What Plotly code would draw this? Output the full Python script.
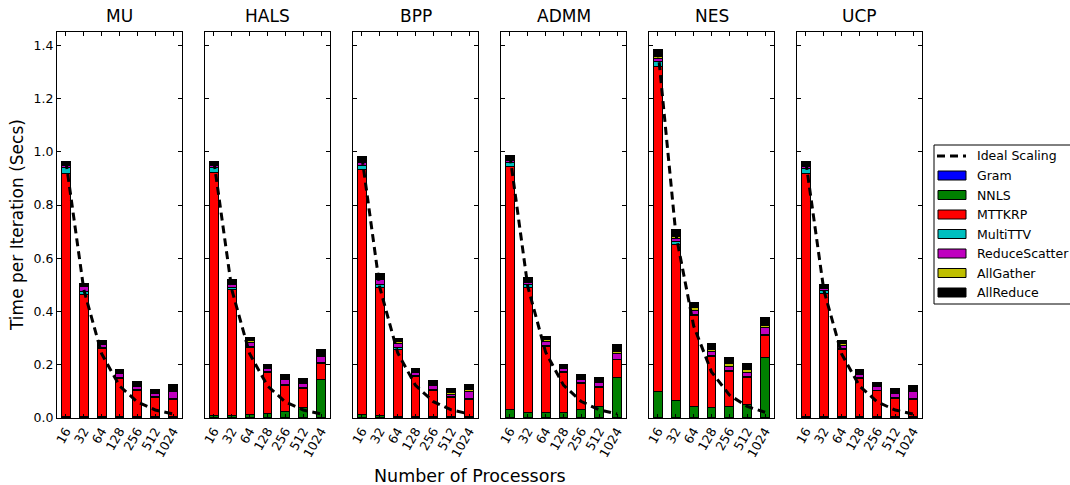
import plotly.graph_objects as go

procs = ["16", "32", "64", "128", "256", "512", "1024"]
methods = ["MU", "HALS", "BPP", "ADMM", "NES", "UCP"]
components = ["Gram", "NNLS", "MTTKRP", "MultiTTV", "ReduceScatter", "AllGather", "AllReduce"]
colors = ["#0000ff", "#008000", "#ff0000", "#00bfbf", "#bf00bf", "#bfbf00", "#000000"]

# MU
mu_gram = [0.002, 0.002, 0.002, 0.002, 0.002, 0.002, 0.003]
mu_nnls = [0.003, 0.003, 0.003, 0.003, 0.003, 0.003, 0.003]
mu_mttkrp = [0.915, 0.460, 0.255, 0.145, 0.100, 0.073, 0.065]
mu_multittv = [0.020, 0.010, 0.005, 0.004, 0.003, 0.003, 0.002]
mu_rs = [0.007, 0.018, 0.010, 0.013, 0.011, 0.010, 0.027]
mu_ag = [0.002, 0.003, 0.003, 0.004, 0.004, 0.004, 0.005]
mu_ar = [0.016, 0.011, 0.013, 0.012, 0.013, 0.013, 0.022]

# HALS
hals_gram = [0.002, 0.002, 0.002, 0.002, 0.002, 0.002, 0.003]
hals_nnls = [0.008, 0.008, 0.010, 0.014, 0.024, 0.036, 0.140]
hals_mttkrp = [0.913, 0.474, 0.254, 0.155, 0.097, 0.072, 0.063]
hals_multittv = [0.017, 0.008, 0.004, 0.003, 0.003, 0.003, 0.002]
hals_rs = [0.008, 0.009, 0.015, 0.012, 0.018, 0.018, 0.022]
hals_ag = [0.002, 0.004, 0.005, 0.004, 0.005, 0.004, 0.004]
hals_ar = [0.015, 0.014, 0.014, 0.012, 0.013, 0.013, 0.022]

# BPP
bpp_gram = [0.002, 0.002, 0.002, 0.002, 0.002, 0.002, 0.002]
bpp_nnls = [0.013, 0.006, 0.003, 0.003, 0.003, 0.003, 0.003]
bpp_mttkrp = [0.918, 0.484, 0.254, 0.151, 0.100, 0.072, 0.065]
bpp_multittv = [0.017, 0.008, 0.005, 0.003, 0.003, 0.003, 0.002]
bpp_rs = [0.008, 0.020, 0.017, 0.012, 0.013, 0.010, 0.028]
bpp_ag = [0.003, 0.004, 0.005, 0.004, 0.005, 0.005, 0.006]
bpp_ar = [0.020, 0.017, 0.012, 0.012, 0.014, 0.015, 0.021]

# ADMM
admm_gram = [0.002, 0.002, 0.002, 0.002, 0.002, 0.002, 0.003]
admm_nnls = [0.030, 0.020, 0.018, 0.020, 0.030, 0.043, 0.150]
admm_mttkrp = [0.914, 0.470, 0.250, 0.149, 0.098, 0.070, 0.065]
admm_multittv = [0.015, 0.008, 0.004, 0.003, 0.003, 0.003, 0.002]
admm_rs = [0.008, 0.008, 0.015, 0.013, 0.012, 0.016, 0.024]
admm_ag = [0.003, 0.005, 0.005, 0.004, 0.004, 0.005, 0.004]
admm_ar = [0.015, 0.016, 0.012, 0.011, 0.013, 0.013, 0.027]

# NES
nes_gram = [0.002, 0.002, 0.002, 0.002, 0.002, 0.002, 0.003]
nes_nnls = [0.098, 0.062, 0.043, 0.037, 0.041, 0.047, 0.225]
nes_mttkrp = [1.220, 0.587, 0.340, 0.192, 0.131, 0.103, 0.081]
nes_multittv = [0.020, 0.012, 0.005, 0.003, 0.003, 0.003, 0.003]
nes_rs = [0.010, 0.010, 0.013, 0.015, 0.017, 0.017, 0.027]
nes_ag = [0.008, 0.010, 0.013, 0.010, 0.012, 0.012, 0.010]
nes_ar = [0.027, 0.025, 0.018, 0.019, 0.022, 0.022, 0.030]

# UCP
ucp_gram = [0.002, 0.002, 0.002, 0.002, 0.002, 0.002, 0.003]
ucp_nnls = [0.003, 0.003, 0.003, 0.003, 0.003, 0.003, 0.003]
ucp_mttkrp = [0.913, 0.463, 0.253, 0.143, 0.097, 0.069, 0.064]
ucp_multittv = [0.018, 0.010, 0.004, 0.003, 0.003, 0.002, 0.002]
ucp_rs = [0.007, 0.008, 0.012, 0.013, 0.012, 0.016, 0.027]
ucp_ag = [0.003, 0.004, 0.004, 0.004, 0.004, 0.004, 0.005]
ucp_ar = [0.016, 0.013, 0.012, 0.015, 0.013, 0.013, 0.018]

series = {
    "MU": [mu_gram, mu_nnls, mu_mttkrp, mu_multittv, mu_rs, mu_ag, mu_ar],
    "HALS": [hals_gram, hals_nnls, hals_mttkrp, hals_multittv, hals_rs, hals_ag, hals_ar],
    "BPP": [bpp_gram, bpp_nnls, bpp_mttkrp, bpp_multittv, bpp_rs, bpp_ag, bpp_ar],
    "ADMM": [admm_gram, admm_nnls, admm_mttkrp, admm_multittv, admm_rs, admm_ag, admm_ar],
    "NES": [nes_gram, nes_nnls, nes_mttkrp, nes_multittv, nes_rs, nes_ag, nes_ar],
    "UCP": [ucp_gram, ucp_nnls, ucp_mttkrp, ucp_multittv, ucp_rs, ucp_ag, ucp_ar],
}

W, H = 1070, 485
panel_left = [57, 205, 353, 501, 649, 797]
panel_w = 125
plot_top, plot_bottom = 32, 418
FONT = "DejaVu Sans"
DASH = "8px,5px"


def px(x):
    return x / W


def py(y):
    return 1 - y / H


fig = go.Figure()
layout = dict(
    width=W, height=H,
    margin=dict(l=0, r=0, t=0, b=0),
    paper_bgcolor="white", plot_bgcolor="white",
    barmode="stack",
    font=dict(family=FONT, size=12, color="black"),
    showlegend=False,
)

annotations = []
shapes = []
for i, m in enumerate(methods):
    ax = "" if i == 0 else str(i + 1)
    xa, ya = "x" + ax, "y" + ax
    vals = series[m]
    totals = [sum(v[j] for v in vals) for j in range(len(procs))]
    for c, (name, col) in enumerate(zip(components, colors)):
        fig.add_trace(go.Bar(
            x=procs, y=vals[c], name=name, xaxis=xa, yaxis=ya,
            marker=dict(color=col, line=dict(color="black", width=1)),
            width=0.5, legendgroup=name,
        ))
    # ideal scaling from the 16-processor time
    p0 = int(procs[0])
    ideal = [totals[0] * p0 / int(p) for p in procs]
    fig.add_trace(go.Scatter(
        x=procs, y=ideal, mode="lines", name="Ideal Scaling",
        xaxis=xa, yaxis=ya,
        line=dict(color="black", width=3, dash=DASH),
        legendgroup="ideal",
    ))
    x0 = px(panel_left[i])
    x1 = px(panel_left[i] + panel_w)
    layout["xaxis" + ax] = dict(
        domain=[x0, x1], anchor=ya, type="category",
        range=[-0.5, len(procs) - 0.5],
        showline=True, linecolor="black", linewidth=1, mirror="ticks",
        ticks="inside", ticklen=4, tickcolor="black",
        tickangle=-60, tickfont=dict(family=FONT, size=12.5),
        showgrid=False, zeroline=False, automargin=False, fixedrange=True,
    )
    layout["yaxis" + ax] = dict(
        domain=[py(plot_bottom), py(plot_top)], anchor=xa,
        range=[0, 1.45], tickvals=[0, 0.2, 0.4, 0.6, 0.8, 1.0, 1.2, 1.4],
        tickformat=".1f", showticklabels=(i == 0),
        showline=True, linecolor="black", linewidth=1, mirror="ticks",
        ticks="inside", ticklen=4, tickcolor="black",
        tickfont=dict(family=FONT, size=12.5),
        showgrid=False, zeroline=False, automargin=False, fixedrange=True,
    )
    annotations.append(dict(
        text=m, x=(x0 + x1) / 2, y=py(plot_top - 4),
        xref="paper", yref="paper", xanchor="center", yanchor="bottom",
        showarrow=False, font=dict(family=FONT, size=17),
    ))

annotations.append(dict(
    text="Time per Iteration (Secs)", x=px(17), y=py(225),
    xref="paper", yref="paper", xanchor="center", yanchor="middle",
    textangle=-90, showarrow=False, font=dict(family=FONT, size=17),
))
annotations.append(dict(
    text="Number of Processors", x=px(470), y=py(476),
    xref="paper", yref="paper", xanchor="center", yanchor="middle",
    showarrow=False, font=dict(family=FONT, size=17.5),
))

# legend (matplotlib-style box at the right edge, partly outside the page)
leg_left, leg_top, leg_bottom = 934, 145, 304
shapes.append(dict(
    type="rect", xref="paper", yref="paper",
    x0=px(leg_left), x1=px(1100), y0=py(leg_bottom), y1=py(leg_top),
    line=dict(color="black", width=1), fillcolor="white", layer="above",
))
legend_labels = ["Ideal Scaling"] + components
row0, row_step = 156, 19.5
for k, lab in enumerate(legend_labels):
    yc = row0 + k * row_step
    if k == 0:
        shapes.append(dict(
            type="line", xref="paper", yref="paper",
            x0=px(937), x1=px(966), y0=py(yc), y1=py(yc),
            line=dict(color="black", width=3, dash=DASH), layer="above",
        ))
    else:
        shapes.append(dict(
            type="rect", xref="paper", yref="paper",
            x0=px(938), x1=px(966), y0=py(yc + 4.5), y1=py(yc - 4.5),
            line=dict(color="black", width=1), fillcolor=colors[k - 1],
            layer="above",
        ))
    annotations.append(dict(
        text=lab, x=px(975), y=py(yc), xref="paper", yref="paper",
        xanchor="left", yanchor="middle", showarrow=False,
        font=dict(family=FONT, size=12.5),
    ))

layout["annotations"] = annotations
layout["shapes"] = shapes
fig.update_layout(**layout)
fig.write_html("out.html")
